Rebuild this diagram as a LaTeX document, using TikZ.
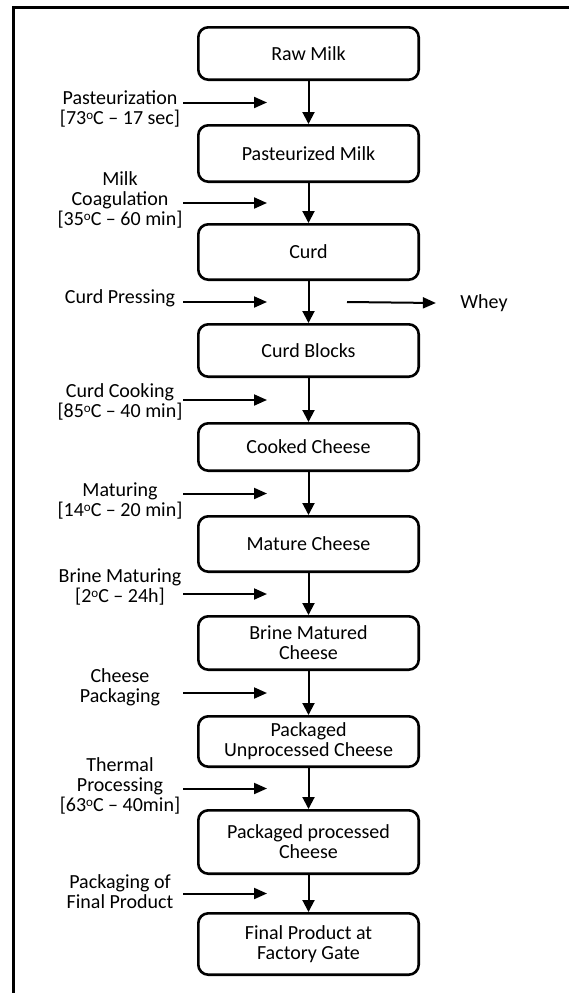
\documentclass[tikz,border=0pt]{standalone}
\usepackage{fontspec}
\setmainfont{Carlito}
\usetikzlibrary{arrows.meta,positioning,calc}
\newcommand\degc{\raisebox{0.55ex}{\fontsize{13}{13}\selectfont o}C}

\begin{document}
\begin{tikzpicture}[
    x=1pt, y=-1pt,
    every node/.style={font=\fontsize{20}{19.8}\selectfont},
    stage/.style={draw, line width=2.6pt, rounded corners=10pt, align=center, minimum width=220.4pt, inner sep=2pt},
    cond/.style={align=center, inner sep=0pt},
    flow/.style={-{Triangle[length=12pt,width=12pt]}, line width=2pt},
    feed/.style={-{Triangle[length=13pt,width=11pt]}, line width=2pt}
]
\useasboundingbox (0,0) rectangle (569,993);
\clip (0,0) rectangle (569,993);
\draw[line width=3.5pt] (13.5,1010) |- (590,7.5);

\node[stage, minimum height=52.4pt] (raw) at (308.5,53.5) {Raw Milk};
\node[stage, minimum height=56.4pt, below=43pt of raw] (past) {Pasteurized Milk};
\node[stage, minimum height=55.4pt, below=40pt of past] (curd) {Curd};
\node[stage, minimum height=52.4pt, below=42pt of curd] (blocks) {Curd Blocks};
\node[stage, minimum height=47.4pt, below=44pt of blocks] (cooked) {Cooked Cheese};
\node[stage, minimum height=55.4pt, below=43pt of cooked] (mature) {Mature Cheese};
\node[stage, minimum height=53.4pt, below=42pt of mature] (brine) {Brine Matured\\Cheese};
\node[stage, minimum height=50.4pt, below=44pt of brine] (unproc) {Packaged\\Unprocessed Cheese};
\node[stage, minimum height=63.4pt, below=41pt of unproc] (proc) {Packaged processed\\Cheese};
\node[stage, minimum height=61.4pt, below=37pt of proc] (final) {Final Product at\\Factory Gate};

\coordinate (jpast) at ($(raw.south)!0.5!(past.north)$);
\coordinate (jcoag) at ($(past.south)!0.5!(curd.north)$);
\coordinate (jpress) at ($(curd.south)!0.5!(blocks.north)$);
\coordinate (jcook) at ($(blocks.south)!0.5!(cooked.north)$);
\coordinate (jmat) at ($(cooked.south)!0.5!(mature.north)$);
\coordinate (jbrine) at ($(mature.south)!0.5!(brine.north)$);
\coordinate (jpack) at ($(brine.south)!0.5!(unproc.north)$);
\coordinate (jtherm) at ($(unproc.south)!0.5!(proc.north)$);
\coordinate (jfinal) at ($(proc.south)!0.5!(final.north)$);

\node[cond] (lpast) at ([xshift=-188.5pt, yshift=-6.5pt]jpast) {Pasteurization\\\relax[73\degc{} – 17 sec]};
\node[cond] (lcoag) at ([xshift=-188.5pt, yshift=3pt]jcoag) {Milk\\Coagulation\\\relax[35\degc{} – 60 min]};
\node[cond] (lpress) at ([xshift=-188.5pt, yshift=4pt]jpress) {Curd Pressing};
\node[cond] (lcook) at ([xshift=-188.5pt, yshift=-2pt]jcook) {Curd Cooking\\\relax[85\degc{} – 40 min]};
\node[cond] (lmat) at ([xshift=-188.5pt, yshift=-7.5pt]jmat) {Maturing\\\relax[14\degc{} – 20 min]};
\node[cond] (lbrine) at ([xshift=-188.5pt, yshift=7pt]jbrine) {Brine Maturing\\\relax[2\degc{} – 24h]};
\node[cond] (lpack) at ([xshift=-188.5pt, yshift=6pt]jpack) {Cheese\\Packaging};
\node[cond] (ltherm) at ([xshift=-188.5pt, yshift=2.5pt]jtherm) {Thermal\\Processing\\\relax[63\degc{} – 40min]};
\node[cond] (lfinal) at ([xshift=-188.5pt, yshift=1.5pt]jfinal) {Packaging of\\Final Product};
\node (whey) at ([xshift=175.5pt, yshift=-1pt]jpress) {Whey};

\draw[flow] (raw) -- (past);
\draw[flow] (past) -- (curd);
\draw[flow] (curd) -- (blocks);
\draw[flow] (blocks) -- (cooked);
\draw[flow] (cooked) -- (mature);
\draw[flow] (mature) -- (brine);
\draw[flow] (brine) -- (unproc);
\draw[flow] (unproc) -- (proc);
\draw[flow] (proc) -- (final);

\draw[feed] ([xshift=-125.5pt]jpast) -- ([xshift=-41.5pt]jpast);
\draw[feed] ([xshift=-125.5pt]jcoag) -- ([xshift=-41.5pt]jcoag);
\draw[feed] ([xshift=-125.5pt]jpress) -- ([xshift=-41.5pt]jpress);
\draw[feed] ([xshift=-125.5pt]jcook) -- ([xshift=-41.5pt]jcook);
\draw[feed] ([xshift=-125.5pt]jmat) -- ([xshift=-41.5pt]jmat);
\draw[feed] ([xshift=-125.5pt]jbrine) -- ([xshift=-41.5pt]jbrine);
\draw[feed] ([xshift=-125.5pt]jpack) -- ([xshift=-41.5pt]jpack);
\draw[feed] ([xshift=-125.5pt]jtherm) -- ([xshift=-41.5pt]jtherm);
\draw[feed] ([xshift=-125.5pt]jfinal) -- ([xshift=-41.5pt]jfinal);
\draw[feed] ([xshift=38.5pt]jpress) -- ([xshift=-21pt]whey.west);
\end{tikzpicture}
\end{document}
